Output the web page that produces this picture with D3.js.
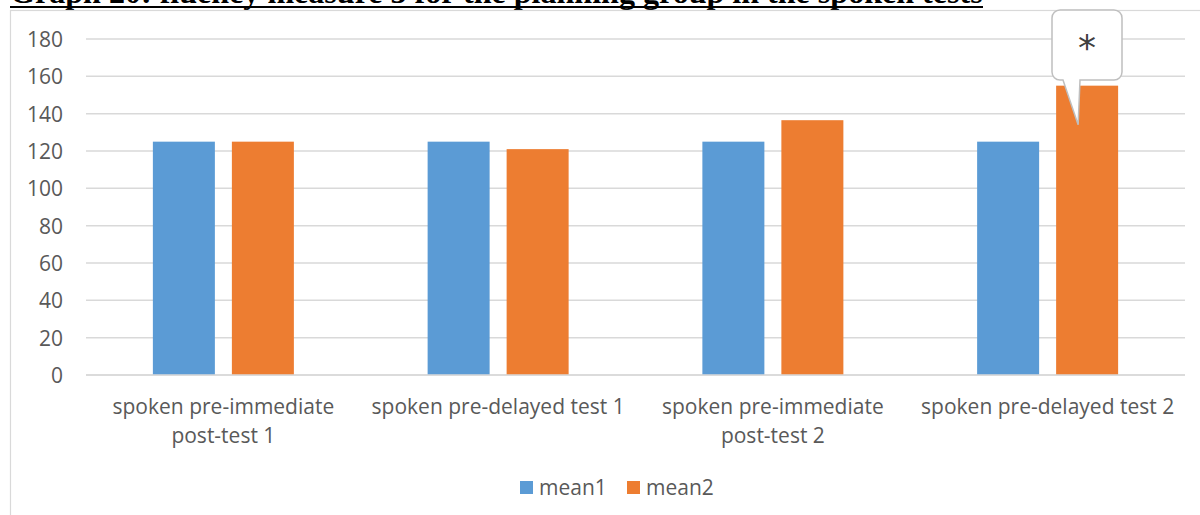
<!DOCTYPE html>
<html><head><meta charset="utf-8">
<script src="https://cdn.jsdelivr.net/npm/d3@7"></script>
<style>
html,body{margin:0;padding:0;background:#fff;}
svg{display:block;}
</style></head>
<body>
<svg id="chart" width="1200" height="515"></svg>
<script>
const title = "Graph 20: fluency measure 3 for the planning group in the spoken tests";
const categories = ["spoken pre-immediate post-test 1","spoken pre-delayed test 1","spoken pre-immediate post-test 2","spoken pre-delayed test 2"];
const seriesNames = ["mean1","mean2"];
const mean1 = [125, 125, 125, 125];
const mean2 = [125, 121, 136.5, 155];
const yTicks = [0,20,40,60,80,100,120,140,160,180];
const colors = ["#5B9BD5","#ED7D31"];
const calloutText = "*";

const svg = d3.select("#chart");
const font = "'Open Sans', 'Liberation Sans', sans-serif";
const textColor = "#595959";

// Title (clipped at top like the reference)
const t = svg.append("text").attr("x",10).attr("y",3)
  .attr("font-family","'Liberation Serif', 'Times New Roman', serif")
  .attr("font-weight","bold").attr("font-size",26).attr("fill","#000").text(title);
const tw = t.node().getComputedTextLength();
t.attr("font-size",26*973/tw);
svg.append("line").attr("x1",10).attr("x2",983).attr("y1",7).attr("y2",7)
  .attr("stroke","#000").attr("stroke-width",2);

// chart frame
svg.append("rect").attr("x",10.5).attr("y",10.5).attr("width",1200).attr("height",520)
  .attr("fill","none").attr("stroke","#d9d9d9").attr("stroke-width",1.2);

const x0 = 86, x1 = 1185, yTop = 39, yBottom = 375;
const x = d3.scaleBand().domain(categories).range([x0,x1]).padding(0);
const y = d3.scaleLinear().domain([0,180]).range([yBottom,yTop]);

// gridlines
svg.append("g").selectAll("line").data(yTicks).join("line")
  .attr("x1",x0).attr("x2",x1).attr("y1",d=>y(d)).attr("y2",d=>y(d))
  .attr("stroke","#d9d9d9").attr("stroke-width",1.5);

// y axis labels
const yAxis = d3.axisLeft(y).tickValues(yTicks).tickSize(0).tickPadding(0);
const ya = svg.append("g").attr("transform","translate(63,0)").call(yAxis);
ya.select(".domain").remove();
ya.selectAll("text").attr("font-family",font).attr("font-size",21).attr("fill",textColor).attr("dy","0.35em");

// bars
const barW = 62, gap = 17;
const data = categories.map((c,i)=>({c, vals:[mean1[i],mean2[i]]}));
const groups = svg.append("g").selectAll("g").data(data).join("g")
  .attr("transform",d=>`translate(${x(d.c)+x.bandwidth()/2},0)`);
groups.selectAll("rect").data(d=>d.vals.map((v,j)=>({v,j}))).join("rect")
  .attr("x",d=> d.j===0 ? -(barW+gap/2) : gap/2)
  .attr("width",barW)
  .attr("y",d=>y(d.v)).attr("height",d=>yBottom-y(d.v))
  .attr("fill",d=>colors[d.j]);

// x axis line
svg.append("line").attr("x1",x0).attr("x2",x1).attr("y1",yBottom).attr("y2",yBottom)
  .attr("stroke","#d9d9d9").attr("stroke-width",1.5);

// x labels with wrapping
const xa = svg.append("g");
categories.forEach(c=>{
  const cx = x(c)+x.bandwidth()/2;
  const txt = xa.append("text").attr("x",cx).attr("y",414).attr("text-anchor","middle")
    .attr("font-family",font).attr("font-size",21).attr("fill",textColor);
  const words = c.split(" ");
  let line = [];
  let tspan = txt.append("tspan").attr("x",cx).attr("dy",0);
  words.forEach(w=>{
    line.push(w);
    tspan.text(line.join(" "));
    if (tspan.node().getComputedTextLength() > x.bandwidth()-8 && line.length>1){
      line.pop(); tspan.text(line.join(" "));
      line=[w];
      tspan = txt.append("tspan").attr("x",cx).attr("dy",29).text(w);
    }
  });
});

// callout on last orange bar
const lastCat = categories[3];
const tipX = x(lastCat)+x.bandwidth()/2 + gap/2 + 22;
const tipY = y(mean2[3]) + 39;
const bx = 1052, by = 10, bw = 70, bh = 70, r = 8;
const p = d3.path();
p.moveTo(bx+r,by);
p.lineTo(bx+bw-r,by); p.arcTo(bx+bw,by,bx+bw,by+r,r);
p.lineTo(bx+bw,by+bh-r); p.arcTo(bx+bw,by+bh,bx+bw-r,by+bh,r);
p.lineTo(bx+28,by+bh);
p.lineTo(tipX,tipY);
p.lineTo(bx+11,by+bh);
p.lineTo(bx+r,by+bh); p.arcTo(bx,by+bh,bx,by+bh-r,r);
p.lineTo(bx,by+r); p.arcTo(bx,by,bx+r,by,r);
p.closePath();
svg.append("path").attr("d",p.toString()).attr("fill","#fff")
  .attr("stroke","#bfbfbf").attr("stroke-width",1.5);
svg.append("text").attr("x",bx+bw/2).attr("y",by+50).attr("text-anchor","middle")
  .attr("font-family","'DejaVu Sans', sans-serif").attr("font-size",36).attr("fill","#404040").text(calloutText);

// legend
const leg = svg.append("g");
const legX = [520, 627];
seriesNames.forEach((s,i)=>{
  leg.append("rect").attr("x",legX[i]).attr("y",481).attr("width",13).attr("height",13).attr("fill",colors[i]);
  leg.append("text").attr("x",legX[i]+19).attr("y",495).attr("font-family",font)
    .attr("font-size",21).attr("fill",textColor).text(s);
});
</script>
</body></html>
